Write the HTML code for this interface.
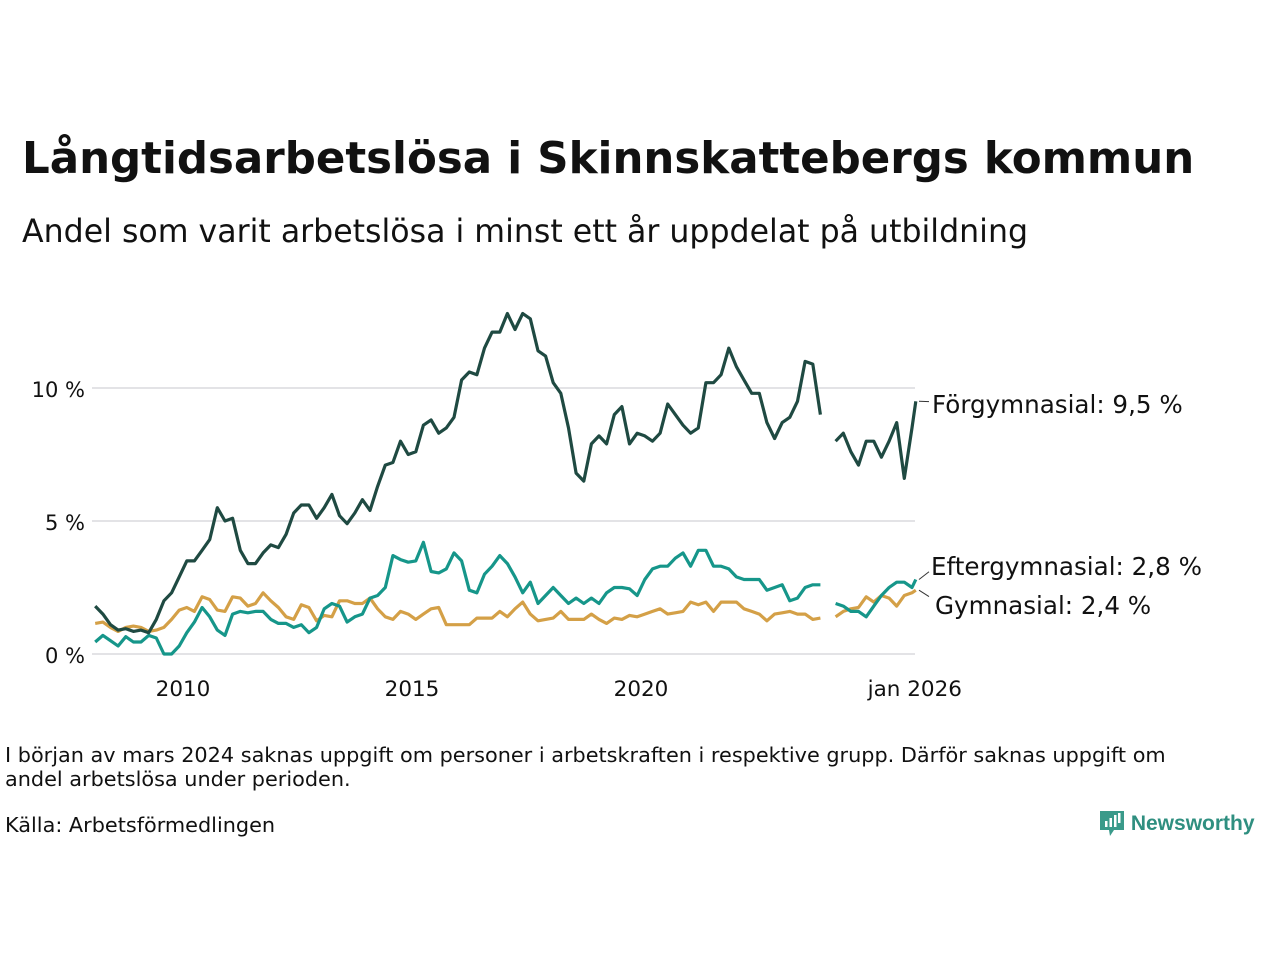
<!DOCTYPE html>
<html><head><meta charset="utf-8">
<style>
body{margin:0;background:#fff;font-family:"DejaVu Sans","Liberation Sans",sans-serif;color:#111;}
#wrap{position:relative;width:1280px;height:960px;overflow:hidden;}
.t{position:absolute;white-space:nowrap;}
</style></head>
<body>
<div id="wrap">
<div class="t" style="left:22px;top:134px;font-size:43.5px;font-weight:bold;">Långtidsarbetslösa i Skinnskattebergs kommun</div>
<div class="t" style="left:22px;top:214px;font-size:31.6px;">Andel som varit arbetslösa i minst ett år uppdelat på utbildning</div>
<svg id="chart" width="1280" height="960" style="position:absolute;left:0;top:0"></svg>
<div class="t" style="left:5px;top:743px;font-size:20.8px;line-height:24px;white-space:normal;width:1222px;">I början av mars 2024 saknas uppgift om personer i arbetskraften i respektive grupp. Därför saknas uppgift om andel arbetslösa under perioden.</div>
<div class="t" style="left:5px;top:813px;font-size:20.8px;">Källa: Arbetsförmedlingen</div>
<div class="t" style="left:1099px;top:808px;font-size:21px;color:#2f8f80;font-weight:bold;font-family:'Liberation Sans',sans-serif;">
<svg width="26" height="30" style="vertical-align:-8px"><path d="M1 3h24v19H15l-4 6-1-6H1z" fill="#3a9a8a"/><rect x="6" y="13" width="2.5" height="6" fill="#fff"/><rect x="10.5" y="10" width="2.5" height="9" fill="#fff"/><rect x="15" y="7" width="2.5" height="12" fill="#fff"/><rect x="19" y="5" width="2.5" height="10" fill="#fff"/></svg> Newsworthy</div>
</div>
<script>
const forgym=[1.8,1.5,1.1,0.9,0.95,0.85, 0.9,0.8,1.3,2.0,2.3,2.9, 3.5,3.5,3.9,4.3,5.5,5.0, 5.1,3.9,3.4,3.4,3.8,4.1, 4.0,4.5,5.3,5.6,5.6,5.1, 5.5,6.0,5.2,4.9,5.3,5.8, 5.4,6.3,7.1,7.2,8.0,7.5, 7.6,8.6,8.8,8.3,8.5,8.9, 10.3,10.6,10.5,11.5,12.1,12.1, 12.8,12.2,12.8,12.6,11.4,11.2, 10.2,9.8,8.5,6.8,6.5,7.9, 8.2,7.9,9.0,9.3,7.9,8.3, 8.2,8.0,8.3,9.4,9.0,8.6, 8.3,8.5,10.2,10.2,10.5,11.5, 10.8,10.3,9.8,9.8,8.7,8.1, 8.7,8.9,9.5,11.0,10.9,9.0, null,8.0,8.3,7.6,7.1,8.0, 8.0,7.4,8.0,8.7,6.6,8.5, 9.5];
const eftergym=[0.45,0.7,0.5,0.3,0.65,0.45, 0.45,0.7,0.6,0.0,0.0,0.3, 0.8,1.2,1.75,1.4,0.9,0.7, 1.5,1.6,1.55,1.6,1.6,1.3, 1.15,1.15,1.0,1.1,0.8,1.0, 1.7,1.9,1.8,1.2,1.4,1.5, 2.1,2.2,2.5,3.7,3.55,3.45, 3.5,4.2,3.1,3.05,3.2,3.8, 3.5,2.4,2.3,3.0,3.3,3.7, 3.4,2.9,2.3,2.7,1.9,2.2, 2.5,2.2,1.9,2.1,1.9,2.1, 1.9,2.3,2.5,2.5,2.45,2.2, 2.8,3.2,3.3,3.3,3.6,3.8, 3.3,3.9,3.9,3.3,3.3,3.2, 2.9,2.8,2.8,2.8,2.4,2.5, 2.6,2.0,2.1,2.5,2.6,2.6, null,1.9,1.8,1.6,1.6,1.4, 1.8,2.2,2.5,2.7,2.7,2.5, 2.8];
const gym=[1.15,1.2,1.0,0.85,1.0,1.05, 1.0,0.85,0.9,1.0,1.3,1.65, 1.75,1.6,2.15,2.05,1.65,1.6, 2.15,2.1,1.8,1.9,2.3,2.0, 1.75,1.4,1.3,1.85,1.75,1.25, 1.45,1.4,2.0,2.0,1.9,1.9, 2.1,1.7,1.4,1.3,1.6,1.5, 1.3,1.5,1.7,1.75,1.1,1.1, 1.1,1.1,1.35,1.35,1.35,1.6, 1.4,1.7,1.95,1.5,1.25,1.3, 1.35,1.6,1.3,1.3,1.3,1.5, 1.3,1.15,1.35,1.3,1.45,1.4, 1.5,1.6,1.7,1.5,1.55,1.6, 1.95,1.85,1.95,1.6,1.95,1.95, 1.95,1.7,1.6,1.5,1.25,1.5, 1.55,1.6,1.5,1.5,1.3,1.35, null,1.4,1.6,1.7,1.75,2.15, 1.95,2.2,2.1,1.8,2.2,2.3, 2.4];
const yTicks=[0,5,10];
const yTickLabels=["0 %","5 %","10 %"];
const xTicks=[2010,2015,2020,2026];
const xTickLabels=["2010","2015","2020","jan 2026"];
const seriesNames=["Förgymnasial: 9,5 %","Eftergymnasial: 2,8 %","Gymnasial: 2,4 %"];

// dates: Feb 2008 every two months to Dec 2025, then Jan 2026
const dates=[];
for(let i=0;i<forgym.length-1;i++){dates.push(2008+(1+2*i)/12);}
dates.push(2026);

const NS="http://www.w3.org/2000/svg";
const svg=document.getElementById('chart');
const X=y=>183+(y-2010)*45.8;
const Y=v=>654-v*26.6;
function mk(tag,attrs){const e=document.createElementNS(NS,tag);for(const k in attrs)e.setAttribute(k,attrs[k]);svg.appendChild(e);return e;}

yTicks.forEach((t,i)=>{
  const g=mk('line',{x1:92,x2:915,y1:Y(t),y2:Y(t),stroke:'#e3e3e6','stroke-width':2});
  
  
  const l=mk('text',{x:85,y:Y(t)+9,'text-anchor':'end','font-size':21,fill:'#111','font-family':'DejaVu Sans, Liberation Sans, sans-serif'});
  l.textContent=yTickLabels[i];
  
  
});
xTicks.forEach((t,i)=>{
  const l=mk('text',{x:X(t),y:696,'text-anchor':'middle','font-size':21.5,fill:'#111','font-family':'DejaVu Sans, Liberation Sans, sans-serif'});
  if(i===3)l.setAttribute('x',X(t)-1);
  l.textContent=xTickLabels[i];
  
  
});

function pathFor(vals){
  let d='',pen=false;
  vals.forEach((v,i)=>{
    if(v===null){pen=false;return;}
    d+=(pen?'L':'M')+X(dates[i]).toFixed(1)+' '+Y(v).toFixed(1)+' ';
    pen=true;
  });
  return d;
}
const series=[[gym,'#d4a047','gymnasial-line'],[eftergym,'#16968a','eftergymnasial-line'],[forgym,'#1f4a42','forgymnasial-line']];
series.forEach(s=>{
  const p=mk('path',{d:pathFor(s[0]),fill:'none',stroke:s[1],'stroke-width':3.2,'stroke-linejoin':'round'});
  
  
});

const labelVals=[forgym[forgym.length-1],eftergym[eftergym.length-1],gym[gym.length-1]];
const labelY=[404,566,605];
const labelX=[932,931,935];
labelVals.forEach((v,i)=>{
  const ly=mk('line',{x1:919,y1:Y(v),x2:929,y2:(Y(v)+labelY[i]-2)/2,stroke:'#333','stroke-width':1});
  
  
  const t=mk('text',{x:labelX[i],y:labelY[i]+9,'font-size':24.6,fill:'#111','font-family':'DejaVu Sans, Liberation Sans, sans-serif'});
  t.textContent=seriesNames[i];
  
  
});
</script>
</body></html>
